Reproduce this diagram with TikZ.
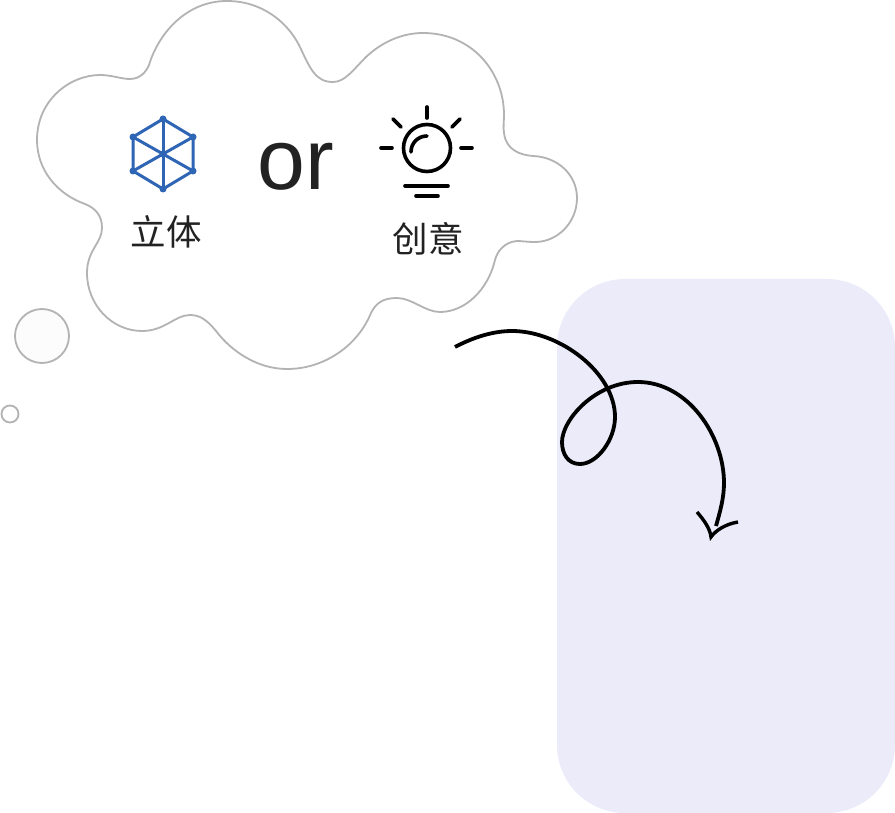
\documentclass[tikz,border=0pt]{standalone}
\usepackage{fontspec}
\setmainfont{Liberation Sans}
\newfontfamily\cjk{Noto Sans CJK SC}
\usepackage{tikz}
\definecolor{cloudgray}{HTML}{B4B2B3}
\definecolor{panelblue}{HTML}{ECEBFA}
\definecolor{cubeblue}{HTML}{2F65B5}
\definecolor{inkdark}{HTML}{222222}
\tikzset{
  cloudline/.style={draw=cloudgray,line width=1.8pt},
  cubeline/.style={draw=cubeblue,line width=3pt},
  bulbline/.style={draw=black,line width=3.6pt,line cap=round},
  swirl/.style={draw=black,line width=3.8pt},
  cjklabel/.style={text=inkdark,font=\cjk\fontsize{35.5}{36}\selectfont,inner sep=0pt},
}
\begin{document}
\begin{tikzpicture}[x=1pt,y=-1pt]
    \useasboundingbox (0,0) rectangle (895,813);
    % panel
    \node (panel) [fill=panelblue,rounded corners=68pt,minimum width=338pt,minimum height=534pt,inner sep=0pt] at (726,546) {};
    % thought cloud
    \draw [cloudline,fill=white] (37,140) .. controls (37,100) and (70,75) .. (100,75)
      .. controls (112,75) and (121,79) .. (130,79)
      .. controls (140,79) and (146,72) .. (149,65)
      .. controls (158,35) and (185,1) .. (227,1)
      .. controls (262,1) and (287,22) .. (299,45)
      .. controls (310,68) and (315,82) .. (333,82)
      .. controls (345,82) and (353,70) .. (366,57)
      .. controls (382,42) and (402,33) .. (423,33)
      .. controls (472,33) and (504,72) .. (504,115)
      .. controls (504,122) and (503,127) .. (504,133)
      .. controls (506,150) and (520,155) .. (533,156)
      .. controls (558,157) and (577,175) .. (577,198)
      .. controls (577,222) and (558,242) .. (535,242)
      .. controls (527,242) and (522,241) .. (517,241)
      .. controls (504,242) and (497,252) .. (495,260)
      .. controls (488,290) and (465,312) .. (440,312)
      .. controls (425,312) and (412,298) .. (397,298)
      .. controls (383,298) and (376,303) .. (371,313)
      .. controls (358,345) and (325,369) .. (287,369)
      .. controls (258,369) and (232,352) .. (216,331)
      .. controls (207,320) and (200,315) .. (190,315)
      .. controls (175,315) and (165,331) .. (142,331)
      .. controls (112,331) and (87,305) .. (87,273)
      .. controls (87,250) and (102,243) .. (102,228)
      .. controls (102,215) and (95,208) .. (85,204)
      .. controls (57,194) and (37,170) .. (37,140) -- cycle;
    \draw [cloudline,fill=black!1] (42,336) circle (27);
    \draw [cloudline,fill=white] (10,414) circle (8.5);
    % cube
    \coordinate (cubetop) at (163,119);
    \coordinate (cubeleftup) at (133,137);
    \coordinate (cuberightup) at (193,137);
    \coordinate (cubeleftdown) at (133,171);
    \coordinate (cuberightdown) at (193,171);
    \coordinate (cubebottom) at (163,189);
    \coordinate (cubecentre) at (163,154);
    \draw [cubeline,line join=round] (cubetop) -- (cuberightup) -- (cuberightdown) -- (cubebottom) -- (cubeleftdown) -- (cubeleftup) -- cycle;
    \draw [cubeline] (cubetop) -- (cubebottom);
    \draw [cubeline] (cubeleftup) -- (cuberightdown);
    \draw [cubeline] (cubeleftdown) -- (cuberightup);
    \foreach \corner in {cubetop,cubeleftup,cuberightup,cubeleftdown,cuberightdown,cubebottom,cubecentre}
      \fill [cubeblue] (\corner) circle (3.5);
    \node (cubelabel) [cjklabel] at (166,232) {立体};
    % or
    \node (orword) [text=inkdark,font=\fontsize{86}{86}\selectfont,inner sep=0pt,anchor=base] at (296,190) {or};
    % bulb
    \coordinate (bulbcentre) at (427,148);
    \draw [bulbline] (bulbcentre) circle (23.5);
    \draw [bulbline] (411,152) .. controls (411,143) and (418,136) .. (427,136);
    \draw [bulbline] (427,107) -- (427,118);
    \draw [bulbline] (393,119) -- (401,127);
    \draw [bulbline] (460,119) -- (452,127);
    \draw [bulbline] (381,148) -- (392,148);
    \draw [bulbline] (461,148) -- (472,148);
    \draw [bulbline] (405,186) -- (448,186);
    \draw [bulbline] (416,196) -- (438,196);
    \node (bulblabel) [cjklabel] at (428,239) {创意};
    % swirl arrow
    \coordinate (swirlstart) at (455,347);
    \coordinate (swirlend) at (716,526);
    \coordinate (tip) at (711,537);
    \coordinate (barbleft) at (697,512);
    \coordinate (barbright) at (738,522);
    \draw [swirl] (swirlstart) .. controls (472,338) and (492,331) .. (512,331)
      .. controls (560,331) and (615,373) .. (615,417)
      .. controls (615,440) and (597,464) .. (580,464)
      .. controls (568,464) and (562,454) .. (562,442)
      .. controls (562,420) and (595,382) .. (638,382)
      .. controls (688,382) and (724,436) .. (724,483)
      .. controls (724,498) and (720,512) .. (swirlend);
    \draw [swirl,line width=3.4pt,line join=miter,miter limit=12] (barbleft) .. controls (703,519) and (710,528) .. (tip)
      .. controls (716,530) and (726,524) .. (barbright);
\end{tikzpicture}
\end{document}
